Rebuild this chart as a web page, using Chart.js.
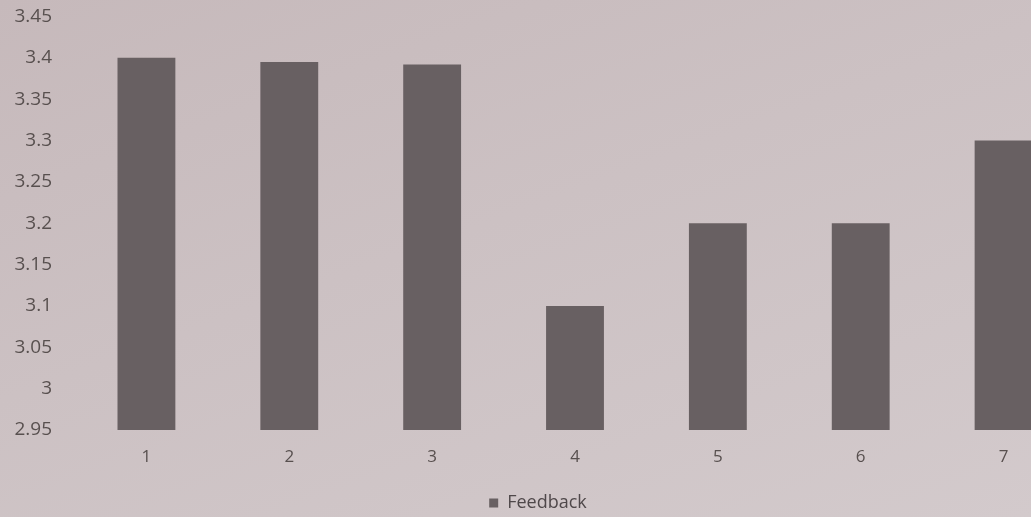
<!DOCTYPE html>
<html>
<head>
<meta charset="utf-8">
<script src="https://cdn.jsdelivr.net/npm/chart.js@4/dist/chart.umd.min.js"></script>
<style>
  html, body {
    margin: 0;
    padding: 0;
    width: 1031px;
    height: 517px;
    overflow: hidden;
    background: linear-gradient(160deg, #c6b9bb 0%, #ccc1c3 45%, #d3cacc 100%);
  }
  #wrap { position: relative; width: 1075px; height: 540px; margin-top: -18px; }
</style>
</head>
<body>
<div id="wrap"><canvas id="feedbackChart" width="1075" height="540"></canvas></div>
<script>
// sessions and their average feedback score
var sessions = ['1', '2', '3', '4', '5', '6', '7'];
var feedback = [3.4, 3.395, 3.392, 3.1, 3.2, 3.2, 3.3];
var yTicks = [2.95, 3, 3.05, 3.1, 3.15, 3.2, 3.25, 3.3, 3.35, 3.4, 3.45];

document.addEventListener('DOMContentLoaded', function () {
    var ctx = document.getElementById('feedbackChart').getContext('2d');

    Chart.defaults.font.family = '"Open Sans", "Noto Sans", sans-serif';
    Chart.defaults.color = '#58504f';

    var feedbackChart = new Chart(ctx, {
        type: 'bar',
        data: {
            labels: sessions,
            datasets: [{
                label: 'Feedback',
                data: feedback,
                backgroundColor: '#686062',
                borderWidth: 0,
                barPercentage: 0.81,
                categoryPercentage: 0.5,
                base: yTicks[0]
            }]
        },
        options: {
            responsive: false,
            animation: false,
            layout: { padding: { top: 0, left: 1, right: 0, bottom: 0 } },
            plugins: {
                tooltip: { enabled: false },
                legend: {
                    position: 'bottom',
                    labels: {
                        boxWidth: 9,
                        boxHeight: 9,
                        padding: 5,
                        font: { size: 18 },
                        color: '#4f484a'
                    }
                }
            },
            scales: {
                x: {
                    grid: { display: false, drawTicks: false },
                    border: { display: false },
                    ticks: { padding: 17, font: { size: 17 } },
                    afterFit: function (axis) {
                        axis.height = 59;
                    }
                },
                y: {
                    min: yTicks[0],
                    max: yTicks[yTicks.length - 1],
                    grid: { display: false, drawTicks: false },
                    border: { display: false },
                    afterBuildTicks: function (axis) {
                        axis.ticks = yTicks.map(function (v) { return { value: v }; });
                    },
                    afterFit: function (axis) {
                        axis.width = 74;
                    },
                    ticks: {
                        padding: 23,
                        font: { size: 19 },
                        callback: function (value) {
                            return String(Number(value.toFixed(2)));
                        }
                    }
                }
            }
        }
    });
});
</script>
</body>
</html>
